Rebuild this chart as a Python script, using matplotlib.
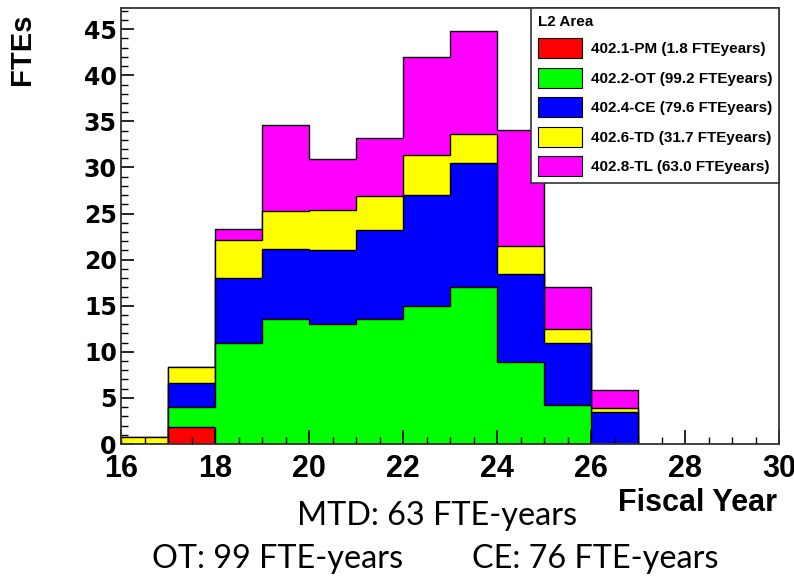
import matplotlib
matplotlib.use("Agg")
import matplotlib.pyplot as plt
import numpy as np
from matplotlib.patches import Patch
from matplotlib.ticker import MultipleLocator

# ---- data ----
years = [16, 17, 18, 19, 20, 21, 22, 23, 24, 25, 26]
pm = [0, 1.8, 0, 0, 0, 0, 0, 0, 0, 0, 0]
ot = [0, 2.25, 11.0, 13.6, 13.0, 13.6, 15.0, 17.0, 8.9, 4.2, 0]
ce = [0, 2.6, 7.0, 7.6, 8.0, 9.6, 12.0, 13.5, 9.5, 6.8, 3.5]
td = [0.75, 1.65, 4.1, 4.1, 4.4, 3.7, 4.3, 3.15, 3.1, 1.5, 0.37]
tl = [0, 0, 1.2, 9.3, 5.5, 6.3, 10.7, 11.15, 12.55, 4.55, 2.0]
labels = ["402.1-PM (1.8 FTEyears)", "402.2-OT (99.2 FTEyears)",
          "402.4-CE (79.6 FTEyears)", "402.6-TD (31.7 FTEyears)",
          "402.8-TL (63.0 FTEyears)"]
colors = ["#ff0000", "#00ff00", "#0000ff", "#ffff00", "#ff00ff"]
series = [pm, ot, ce, td, tl]

W, H = 794, 577
fig = plt.figure(figsize=(W / 100, H / 100), dpi=100)
ax = fig.add_axes([121 / W, 1 - 444 / H, (779 - 121) / W, (444 - 8) / H])

edges = np.array(years + [years[-1] + 1], dtype=float)
cum = np.cumsum(np.array(series, dtype=float), axis=0)
# draw like ROOT THStack: top (total) first, then lower ones over it
for i in range(len(series) - 1, -1, -1):
    ax.stairs(cum[i], edges, baseline=0, fill=True, facecolor=colors[i],
              edgecolor="black", linewidth=1.0, zorder=2)

ax.set_xlim(16, 30)
ax.set_ylim(0, 47.3)

for s in ax.spines.values():
    s.set_linewidth(1.3)
    s.set_color("#333333")
    s.set_zorder(5)

ax.xaxis.set_major_locator(MultipleLocator(2))
ax.xaxis.set_minor_locator(MultipleLocator(0.5))
ax.yaxis.set_major_locator(MultipleLocator(5))
ax.yaxis.set_minor_locator(MultipleLocator(1))
ax.tick_params(axis="x", which="major", direction="in", length=10, width=1.2,
               pad=7, top=False, labelsize=22)
ax.tick_params(axis="x", which="minor", direction="in", length=5, width=1.0, top=False)
ax.tick_params(axis="y", which="major", direction="in", length=9, width=1.2,
               pad=3, right=False, labelsize=17)
ax.tick_params(axis="y", which="minor", direction="in", length=5, width=1.0, right=False)
ax.set_axisbelow(False)
for lab in ax.get_xticklabels():
    lab.set_fontfamily("Liberation Sans")
    lab.set_fontweight("bold")
for lab in ax.get_yticklabels():
    lab.set_fontfamily("DejaVu Sans")
    lab.set_fontweight("bold")

handles = [Patch(facecolor=c, edgecolor="black", linewidth=0.8) for c in colors]
leg = ax.legend(handles, labels, loc="upper right", bbox_to_anchor=(1, 1),
                borderaxespad=0, fancybox=False, framealpha=1, edgecolor="#333333",
                title="L2 Area", alignment="left",
                prop={"family": "Liberation Sans", "weight": "bold", "size": 11},
                title_fontproperties={"family": "Liberation Sans", "weight": "bold", "size": 11},
                handlelength=2.9, handleheight=1.64, handletextpad=0.55,
                labelspacing=0.62, borderpad=0.45)
leg.get_frame().set_linewidth(1.2)
leg.set_zorder(10)

fig.text(22 / W, 1 - 49 / H, "FTEs", rotation=90, ha="center", va="center",
         fontsize=21, fontweight="bold", family="Liberation Sans")
fig.text(777 / W, 1 - 511 / H, "Fiscal Year", ha="right", va="baseline",
         fontsize=22, fontweight="bold", family="Liberation Sans")

fig.text(437 / W, 1 - 516 / H, "MTD: 63 FTE-years", ha="center", va="center",
         fontsize=23.3, family="Lato")
fig.text(152 / W, 1 - 559 / H, "OT: 99 FTE-years", ha="left", va="center",
         fontsize=23.3, family="Lato")
fig.text(718 / W, 1 - 559 / H, "CE: 76 FTE-years", ha="right", va="center",
         fontsize=23.3, family="Lato")

fig.savefig("out.png", dpi=100)
